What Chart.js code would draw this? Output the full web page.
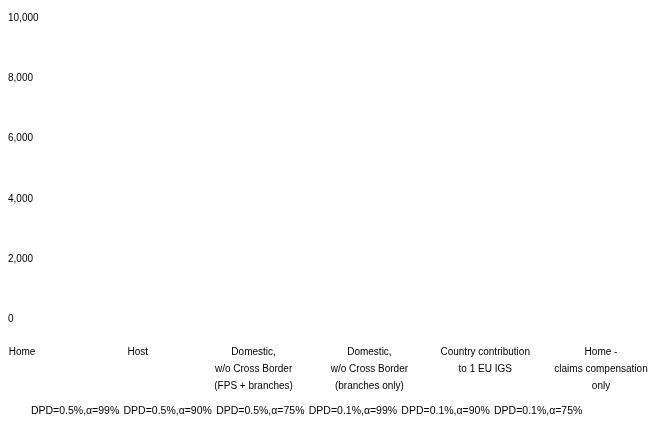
<!DOCTYPE html>
<html>
<head>
<meta charset="utf-8">
<script src="https://cdn.jsdelivr.net/npm/chart.js@4/dist/chart.umd.min.js"></script>
<style>
  html, body { margin: 0; padding: 0; background: #fff; }
  #wrap { width: 659px; height: 426px; }
</style>
</head>
<body>
<div id="wrap"><canvas id="chart"></canvas></div>
<script>
// categories (multi-line labels)
const categories = [
    ['Home'],
    ['Host'],
    ['Domestic,', 'w/o Cross Border', '(FPS + branches)'],
    ['Domestic,', 'w/o Cross Border', '(branches only)'],
    ['Country contribution', 'to 1 EU IGS'],
    ['Home -', 'claims compensation', 'only']
];

// series names (legend)
const seriesNames = [
    'DPD=0.5%,\u03b1=99%',
    'DPD=0.5%,\u03b1=90%',
    'DPD=0.5%,\u03b1=75%',
    'DPD=0.1%,\u03b1=99%',
    'DPD=0.1%,\u03b1=90%',
    'DPD=0.1%,\u03b1=75%'
];

// no bars are visible in the picture
const s1 = [null, null, null, null, null, null];
const s2 = [null, null, null, null, null, null];
const s3 = [null, null, null, null, null, null];
const s4 = [null, null, null, null, null, null];
const s5 = [null, null, null, null, null, null];
const s6 = [null, null, null, null, null, null];
const seriesValues = [s1, s2, s3, s4, s5, s6];

// y axis ticks
const yTicks = [0, 2000, 4000, 6000, 8000, 10000];

Chart.defaults.font.family = '"Liberation Sans", Arial, sans-serif';
Chart.defaults.font.size = 10;
Chart.defaults.color = '#000';

const ctx = document.getElementById('chart').getContext('2d');
const chart = new Chart(ctx, {
    type: 'bar',
    data: {
        labels: categories,
        datasets: seriesNames.map((name, i) => ({
            label: name,
            data: seriesValues[i],
            backgroundColor: 'rgba(0,0,0,0)',
            borderWidth: 0
        }))
    },
    options: {
        responsive: true,
        maintainAspectRatio: false,
        animation: false,
        layout: { padding: { left: 8, right: 58, top: 18, bottom: 0 } },
        plugins: {
            legend: {
                position: 'bottom',
                labels: { boxWidth: -1, boxHeight: 0, padding: 0, font: { size: 10.5 } }
            },
            tooltip: { enabled: false }
        },
        scales: {
            x: {
                offset: false,
                grid: { display: false, drawTicks: false },
                border: { display: false },
                afterFit: (scale) => {
                    scale.paddingLeft = 0;
                    scale.paddingRight = 0;
                    scale.height = 86;
                },
                ticks: {
                    maxRotation: 0,
                    autoSkip: false,
                    padding: 24,
                    font: { size: 10, lineHeight: 1.7 }
                }
            },
            y: {
                min: 0,
                max: 10000,
                grid: { display: false, drawTicks: false },
                border: { display: false },
                afterBuildTicks: (scale) => {
                    scale.ticks = yTicks.map(v => ({ value: v }));
                },
                afterFit: (scale) => { scale.width = 14; },
                ticks: {
                    mirror: true,
                    padding: -14,
                    font: { size: 10 },
                    callback: (v) => v.toLocaleString('en-US')
                }
            }
        }
    }
});
</script>
</body>
</html>
